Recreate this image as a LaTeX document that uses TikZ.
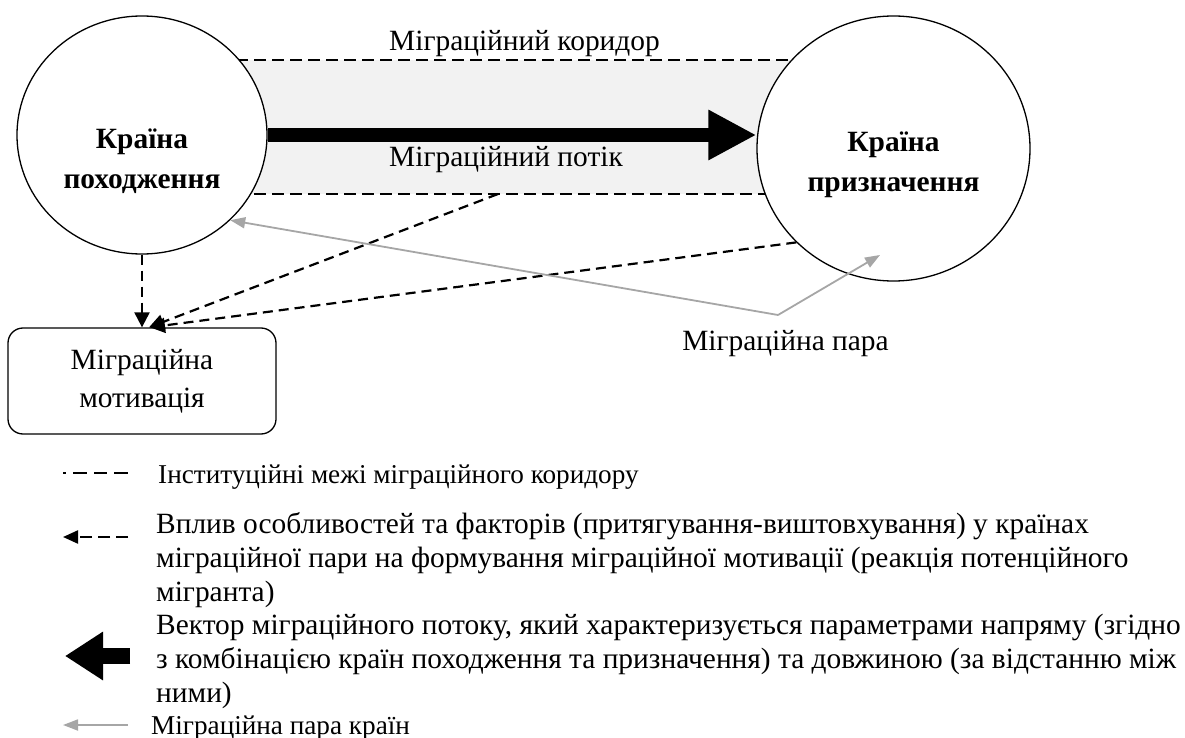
\documentclass[tikz,border=0pt]{standalone}
\usepackage{fontspec}
\setmainfont{Liberation Serif}
\usetikzlibrary{arrows.meta,shapes.geometric}
\begin{document}
\begin{tikzpicture}[x=1pt,y=-1pt,
  country/.style={ellipse, draw, line width=1.3pt, fill=white, inner sep=0pt},
  bigtxt/.style={font=\fontsize{29.4}{40}\selectfont\bfseries, align=center, inner sep=0pt},
  lbl/.style={font=\fontsize{29.4}{38}\selectfont, inner sep=0pt},
  legtxt/.style={font=\fontsize{27.2}{33.8}\selectfont, inner sep=0pt, align=left},
  legtxtb/.style={font=\fontsize{29.4}{33.8}\selectfont, inner sep=0pt, align=left},
  bound/.style={line width=1.3pt, dash pattern=on 12pt off 6pt},
  infl/.style={line width=2.2pt, dash pattern=on 10pt off 6pt, -{Triangle[length=15pt,width=15pt]}},
  pairarrow/.style={draw=black!35, line width=1.8pt, -{Triangle[length=15pt,width=11pt]}},
  flow/.style={line width=14pt, -{Triangle[length=48pt,width=47pt]}}
]
\useasboundingbox (0,0) rectangle (1185,738);
% corridor
\fill[black!5] (200,60) rectangle (830,194);
\coordinate (ctl) at (200,60);
\coordinate (ctr) at (830,60);
\coordinate (cbl) at (200,194);
\coordinate (cbr) at (830,194);
\draw[bound] (ctl) -- (ctr);
\draw[bound] (cbl) -- (cbr);
% countries
\node[country, minimum width=250pt, minimum height=238pt] (orig) at (142,135) {};
\node[country, minimum width=273pt, minimum height=265pt] (dst) at (893.5,148.5) {};
\node[bigtxt] (origtxt) at (142,161) {Країна\\походження};
\node[bigtxt] (dsttxt) at (893.5,165) {Країна\\призначення};
% flow
\draw[flow] (orig.east) -- (orig.east -| dst.west);
\node[lbl, anchor=base west] (corrlbl) at (389,51) {Міграційний коридор};
\node[lbl, anchor=base west] (flowlbl) at (389,167) {Міграційний потік};
% motivation
\node[draw, line width=1.3pt, rounded corners=15pt, minimum width=268pt, minimum height=106pt,
      lbl, align=center] (mot) at (142,381) {Міграційна\\мотивація};
% influences
\coordinate (cb) at (498,194);
\draw[infl] (orig.south) -- (mot.north);
\draw[infl] (cb) -- ([xshift=7pt]mot.north);
\draw[infl] (dst.224) -- ([xshift=8pt]mot.north);
% pair
\coordinate (pv) at (778,315);
\coordinate (pt) at (880,255);
\draw[pairarrow] (pv) -- (orig.-44);
\draw[pairarrow] (pv) -- (pt);
\node[lbl, anchor=base] (pairlbl) at (785.5,350) {Міграційна пара};
% legend
\coordinate (l1a) at (63,473); \coordinate (l1b) at (129,473);
\draw[line width=1.3pt, dash pattern=on 3pt off 7pt on 14pt off 7pt on 13pt off 7pt on 14pt off 50pt] (l1a) -- (l1b);
\node[legtxt, anchor=base west] (t1) at (158,483) {Інституційні межі міграційного коридору};
\coordinate (l2a) at (128,537); \coordinate (l2b) at (63,537);
\draw[infl, dash pattern=on 12pt off 6pt, -{Triangle[length=15pt,width=13pt]}] (l2a) -- (l2b);
\node[legtxtb, anchor=base west] (t2) at (156,601) {Вплив особливостей та факторів (притягування-виштовхування) у країнах\\міграційної пари на формування міграційної мотивації (реакція потенційного\\мігранта)};
\coordinate (l3a) at (130,656); \coordinate (l3b) at (65,656);
\draw[line width=16pt, -{Triangle[length=38pt,width=46pt]}] (l3a) -- (l3b);
\node[legtxtb, anchor=base west] (t3) at (156,702) {Вектор міграційного потоку, який характеризується параметрами напряму (згідно\\з комбінацією країн походження та призначення) та довжиною (за відстанню між\\ними)};
\coordinate (l4a) at (128,725); \coordinate (l4b) at (63,725);
\draw[pairarrow] (l4a) -- (l4b);
\node[legtxt, anchor=base west] (t4) at (151,734) {Міграційна пара країн};
\end{tikzpicture}
\end{document}
